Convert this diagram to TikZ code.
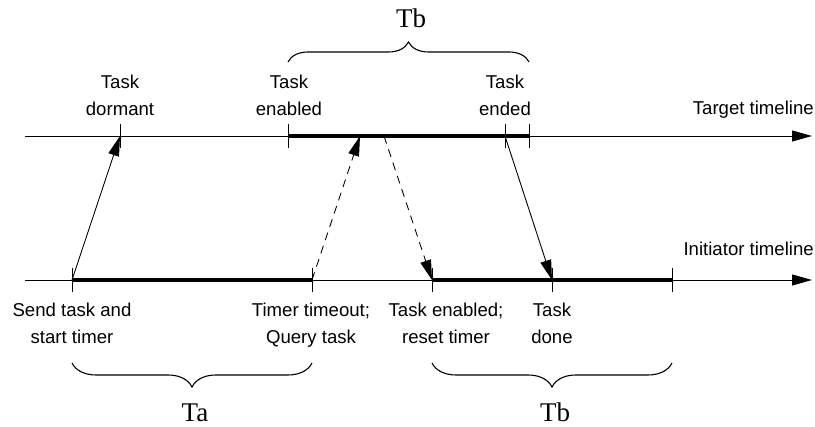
\documentclass[tikz,border=0pt]{standalone}
\usepackage{fontspec}
\setmainfont{Liberation Sans}
\newfontfamily\serifTT{Liberation Serif}
\usetikzlibrary{arrows.meta,decorations.pathreplacing}
\begin{document}
\begin{tikzpicture}[x=1pt,y=-1pt,
  thin line/.style={line width=0.9pt},
  thick seg/.style={line width=4pt},
  tick/.style={line width=0.9pt},
  msg/.style={line width=0.9pt,-{Triangle[length=20pt,width=11pt]}},
  dmsg/.style={msg,dash pattern=on 8pt off 6pt},
  lbl/.style={font=\fontsize{18.6}{27}\selectfont,align=center,inner sep=0pt,anchor=north},
  tl/.style={font=\fontsize{18.6}{27}\selectfont,inner sep=0pt,anchor=base east},
  tt/.style={font=\serifTT\fontsize{27}{30}\selectfont,inner sep=0pt,anchor=base,text depth=0pt},
  brc/.style={line width=1.1pt,decorate}
]
\useasboundingbox (0,0) rectangle (815,427);
% coordinates
\coordinate (ts) at (25,136);
\coordinate (te) at (812,136);
\coordinate (is) at (25,280);
\coordinate (ie) at (812,280);
\coordinate (t1) at (120,136);
\coordinate (t2) at (288,136);
\coordinate (tq) at (360,136);
\coordinate (tr) at (384,136);
\coordinate (t3) at (505,136);
\coordinate (t4) at (529,136);
\coordinate (i1) at (72,280);
\coordinate (i2) at (312,280);
\coordinate (i3) at (432,280);
\coordinate (i4) at (552,280);
\coordinate (i5) at (672,280);
% timelines
\draw[thin line,-{Triangle[length=20pt,width=11pt]}] (ts) -- (te);
\draw[thin line,-{Triangle[length=20pt,width=11pt]}] (is) -- (ie);
\draw[thick seg] (t2) -- (t4);
\draw[thick seg] (i1) -- (i2);
\draw[thick seg] (i3) -- (i5);
% ticks
\foreach \c in {t1,t2,t3,t4,i1,i2,i3,i4,i5}
  \draw[tick] ([yshift=12pt]\c) -- ([yshift=-12pt]\c);
% messages
\draw[msg] (i1) -- (t1);
\draw[dmsg] (i2) -- (tq);
\draw[dmsg] (tr) -- (i3);
\draw[msg] (t3) -- (i4);
% labels
\node[lbl] (ldor) at (120,75) {Task\\dormant};
\node[lbl] (len) at (289,75) {Task\\enabled};
\node[lbl] (lend) at (505,75) {Task\\ended};
\node[tl] (ltt) at (814,115) {Target timeline};
\node[tl] (lit) at (814,256) {Initiator timeline};
\node[lbl] (lsend) at (72,303) {Send task and\\start timer};
\node[lbl] (ltim) at (311,303) {Timer timeout;\\Query task};
\node[lbl] (lten) at (446,303) {Task enabled;\\reset timer};
\node[lbl] (ldone) at (552,303) {Task\\done};
% braces
\draw[brc,decoration={brace,amplitude=20pt}] (288,62) -- (529,62);
\draw[brc,decoration={brace,amplitude=24pt}] (312,363) -- (72,363);
\draw[brc,decoration={brace,amplitude=24pt}] (672,363) -- (432,363);
\node[tt] (tbtop) at (411,28) {Tb};
\node[tt] (ta) at (195,422) {Ta};
\node[tt] (tbbot) at (555,422) {Tb};
\end{tikzpicture}
\end{document}
